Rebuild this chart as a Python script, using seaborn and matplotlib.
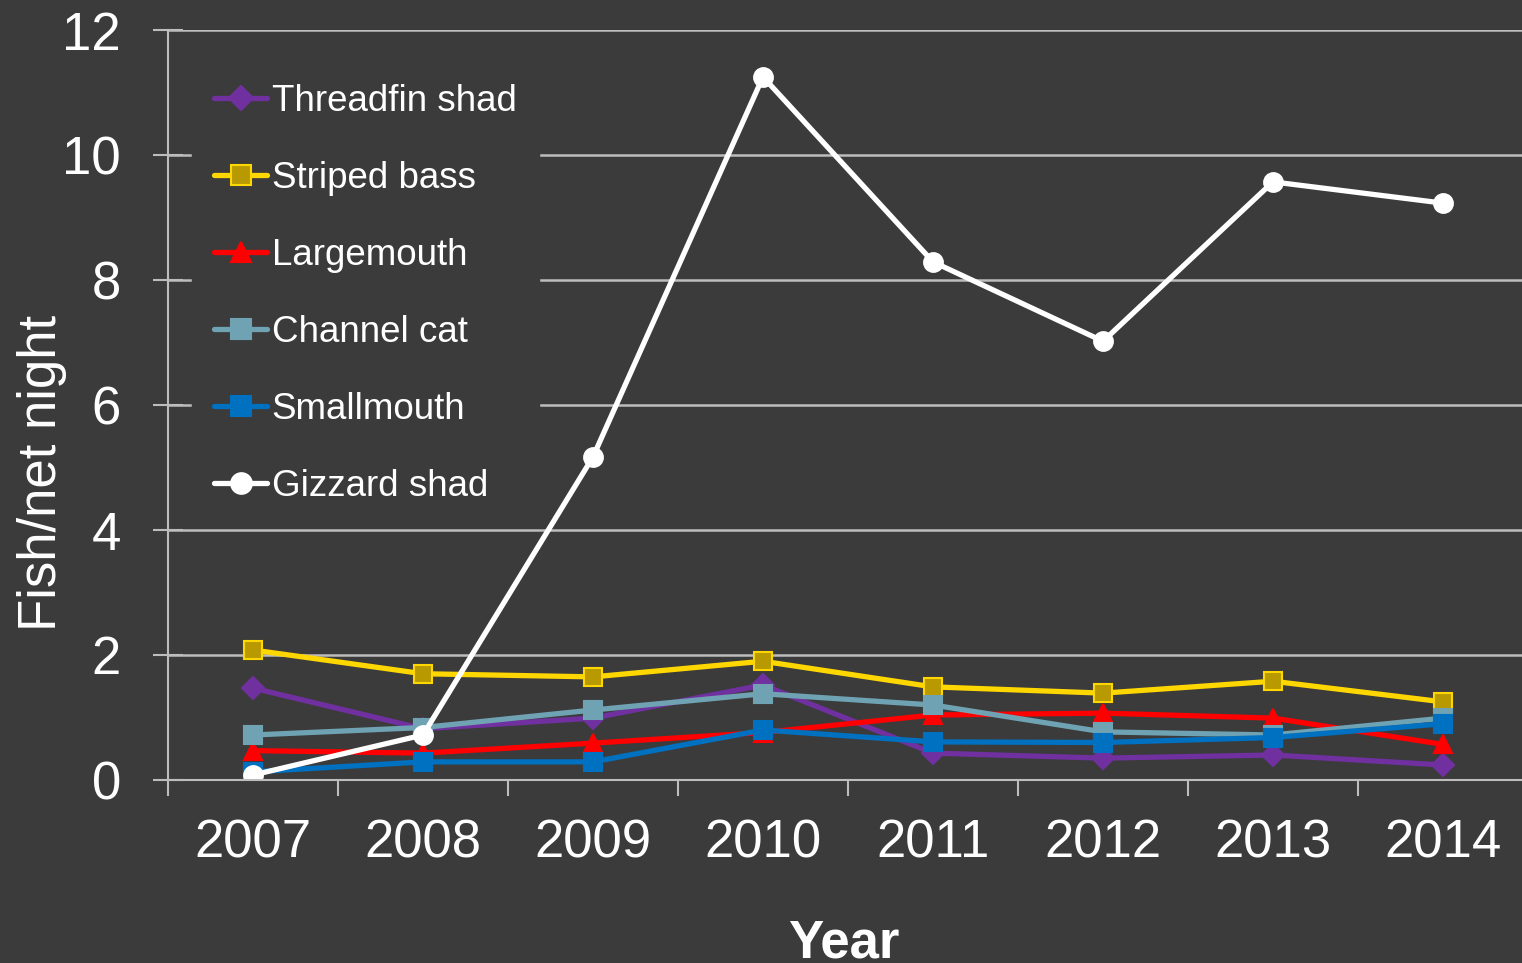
"""
Fish catch per net night by species, 2007-2014
"""

import numpy as np
import pandas as pd
import matplotlib

matplotlib.use("Agg")
import matplotlib.pyplot as plt
import seaborn as sns

# Data
years = [2007, 2008, 2009, 2010, 2011, 2012, 2013, 2014]
species = [
    "Threadfin shad",
    "Striped bass",
    "Largemouth",
    "Channel cat",
    "Smallmouth",
    "Gizzard shad",
]
threadfin_shad = [1.47, 0.82, 0.99, 1.52, 0.43, 0.35, 0.40, 0.24]
striped_bass = [2.08, 1.70, 1.65, 1.90, 1.49, 1.39, 1.58, 1.25]
largemouth = [0.47, 0.43, 0.59, 0.76, 1.04, 1.07, 0.99, 0.57]
channel_cat = [0.72, 0.84, 1.12, 1.38, 1.20, 0.77, 0.72, 0.99]
smallmouth = [0.13, 0.29, 0.29, 0.80, 0.61, 0.60, 0.68, 0.90]
gizzard_shad = [0.08, 0.72, 5.17, 11.25, 8.29, 7.02, 9.57, 9.23]
y_ticks = [0, 2, 4, 6, 8, 10, 12]

BG = "#3b3b3b"
GRID = "#bdbdbd"

# Per-series style: line colour, marker, face colour, edge colour, size
styles = {
    "Threadfin shad": ("#7030A0", "D", "#7030A0", "#7030A0", 11.5),
    "Striped bass": ("#FFD700", "s", "#B89A00", "#FFD700", 12.5),
    "Largemouth": ("#FF0000", "^", "#FF0000", "#FF0000", 13.5),
    "Channel cat": ("#6FA3B3", "s", "#6FA3B3", "#6FA3B3", 12.5),
    "Smallmouth": ("#0070C0", "s", "#0070C0", "#0070C0", 12.5),
    "Gizzard shad": ("#FFFFFF", "o", "#FFFFFF", "#FFFFFF", 13.5),
}

df = pd.DataFrame(
    {
        "Year": years * len(species),
        "Species": np.repeat(species, len(years)),
        "Fish": threadfin_shad
        + striped_bass
        + largemouth
        + channel_cat
        + smallmouth
        + gizzard_shad,
    }
)

sns.set_theme(style="dark")
plt.rcParams["font.family"] = ["Liberation Sans", "DejaVu Sans"]

fig = plt.figure(figsize=(15.22, 9.63), dpi=100, facecolor=BG)
ax = fig.add_axes([168 / 1522, 183 / 963, 1360 / 1522, 750 / 963])
ax.set_facecolor(BG)

for name in species:
    color, marker, face, edge, ms = styles[name]
    sns.lineplot(
        data=df[df["Species"] == name],
        x="Year",
        y="Fish",
        color=color,
        linewidth=3.8,
        marker=marker,
        markersize=ms,
        markerfacecolor=face,
        markeredgecolor=edge,
        markeredgewidth=1.5,
        label=name,
        ax=ax,
        legend=False,
    )

# Axes limits and ticks
ax.set_xlim(2006.5, 2014.5)
ax.set_ylim(0, 12)
ax.set_xticks(years)
ax.set_xticklabels([str(y) for y in years])
ax.set_xticks(np.arange(2006.5, 2015, 1.0), minor=True)
ax.set_yticks(y_ticks)

ax.tick_params(axis="x", which="major", length=0, pad=28, labelsize=38,
               labelcolor="white")
ax.tick_params(axis="x", which="minor", direction="out", length=11.5,
               width=1.5, color=GRID, bottom=True)
ax.tick_params(axis="y", which="major", direction="inout", length=22,
               width=1.5, color=GRID, pad=23, labelsize=38, labelcolor="white",
               left=True)

# Grid and spines
ax.grid(axis="y", color=GRID, linewidth=1.8)
ax.grid(axis="x", visible=False)
ax.set_axisbelow(True)
for side in ["top", "right"]:
    ax.spines[side].set_visible(False)
for side in ["left", "bottom"]:
    ax.spines[side].set_visible(True)
    ax.spines[side].set_color(GRID)
    ax.spines[side].set_linewidth(1.5)

# Axis labels
ax.set_xlabel("Year", fontsize=38, fontweight="bold", color="white")
ax.set_ylabel("Fish/net night", fontsize=38, color="white")
ax.xaxis.set_label_coords(0.497, -0.184)
ax.yaxis.set_label_coords(-0.0743, 0.41)

# Legend (opaque box hides the gridlines behind it)
leg = ax.legend(
    loc="upper left",
    bbox_to_anchor=(0.0176, 0.9577),
    borderaxespad=0,
    fontsize=26.5,
    frameon=True,
    facecolor=BG,
    edgecolor=BG,
    framealpha=1,
    fancybox=False,
    borderpad=0.6,
    handlelength=1.45,
    handletextpad=0.12,
    labelspacing=1.14,
    markerscale=1.1,
)
for text in leg.get_texts():
    text.set_color("white")

plt.savefig("out.png", dpi=100, facecolor=BG)
plt.close()
